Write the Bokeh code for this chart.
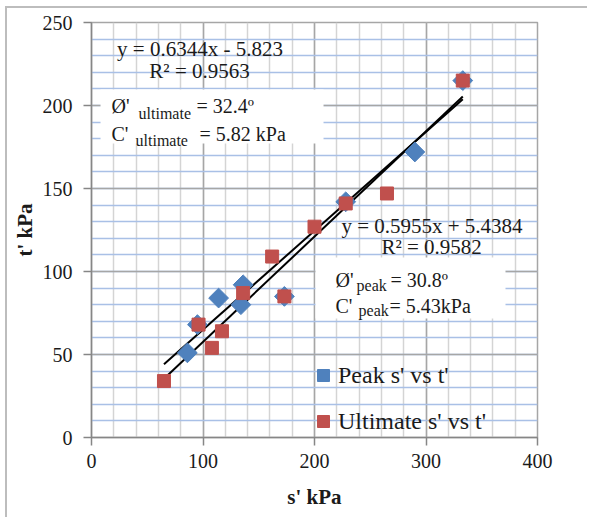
import math
from bokeh.plotting import figure
from bokeh.models import (Range1d, SingleIntervalTicker, Label, BoxAnnotation,
                          Legend, LegendItem)
from bokeh.embed import file_html
from bokeh.resources import INLINE

# ---- data ----
peak_s = [333, 290, 228, 173, 136, 134, 114, 95, 86]
peak_t = [215, 172, 142, 85, 92, 80, 84, 68, 51]
ult_s = [333, 265, 228, 200, 162, 173, 136, 117, 108, 96, 65]
ult_t = [215, 147, 141, 127, 109, 85, 87, 64, 54, 68, 34]

peak_slope, peak_icpt = 0.5955, 5.4384
ult_slope, ult_icpt = 0.6344, -5.823
trend_x = [65, 333]

FONT = "Liberation Serif"
BLUE = "#4F81BD"
RED = "#C0504D"

p = figure(width=582, height=511,
           min_border_left=84, min_border_right=52,
           min_border_top=14, min_border_bottom=82,
           x_range=Range1d(0, 400), y_range=Range1d(0, 250),
           output_backend="svg", toolbar_location=None,
           background_fill_color="white", border_fill_color="white")
p.styles = {"border-left": "2px solid #BDBDBD", "border-top": "2px solid #BDBDBD",
            "margin-left": "5px", "margin-top": "6px"}

xt = SingleIntervalTicker(interval=100, num_minor_ticks=5)
yt = SingleIntervalTicker(interval=50, num_minor_ticks=5)
p.xaxis.ticker = xt
p.yaxis.ticker = yt
p.xgrid.ticker = xt
p.ygrid.ticker = yt

p.xgrid.grid_line_color = "#A6A6A6"
p.xgrid.grid_line_width = 1.5
p.xgrid.minor_grid_line_color = "#D4D4D4"
p.xgrid.minor_grid_line_width = 1.5
p.ygrid.grid_line_color = "#A6A6A6"
p.ygrid.grid_line_width = 1.5
p.ygrid.minor_grid_line_color = "#A9C0E6"
p.ygrid.minor_grid_line_width = 1.5
p.outline_line_color = "#A6A6A6"
p.outline_line_width = 1.5

for ax in (p.xaxis[0], p.yaxis[0]):
    ax.axis_line_color = "#868686"
    ax.axis_line_width = 1.5
    ax.major_tick_line_color = "#868686"
    ax.major_tick_line_width = 1.5
    ax.major_tick_out = 8
    ax.major_tick_in = 0
    ax.minor_tick_out = 0
    ax.minor_tick_in = 0
    ax.major_label_text_font = FONT
    ax.major_label_text_font_size = "20px"
    ax.major_label_text_color = "#1A1A1A"
    ax.axis_label_text_font = FONT
    ax.axis_label_text_font_size = "21px"
    ax.axis_label_text_font_style = "bold"
    ax.axis_label_text_color = "#1A1A1A"

p.xaxis.axis_label = "s' kPa"
p.yaxis.axis_label = "t' kPa"
p.xaxis.major_label_standoff = 8
p.yaxis.major_label_standoff = 11
p.xaxis.axis_label_standoff = 14
p.yaxis.axis_label_standoff = 3

# white backgrounds behind the annotation text
p.add_layout(BoxAnnotation(left=8.1, right=208.1, bottom=177.1, top=209.6,
                           fill_color="white", fill_alpha=1, line_color=None,
                           level="underlay"))
p.add_layout(BoxAnnotation(left=200.9, right=371.3, bottom=71.7, top=108.4,
                           fill_color="white", fill_alpha=1, line_color=None,
                           level="underlay"))

# trendlines
p.line(trend_x, [peak_slope * x + peak_icpt for x in trend_x],
       line_color="black", line_width=2)
p.line(trend_x, [ult_slope * x + ult_icpt for x in trend_x],
       line_color="black", line_width=2)

r_peak = p.scatter(peak_s, peak_t, marker="square", angle=math.pi / 4, size=14,
                   fill_color=BLUE, line_color=BLUE)
r_ult = p.scatter(ult_s, ult_t, marker="square", size=13,
                  fill_color=RED, line_color=RED)

legend = Legend(items=[LegendItem(label="Peak s' vs t'", renderers=[r_peak]),
                       LegendItem(label="Ultimate s' vs t'", renderers=[r_ult])],
                location=(217, 1), margin=0, padding=0, spacing=16,
                glyph_width=30, glyph_height=30, label_standoff=0,
                label_text_font=FONT, label_text_font_size="24px",
                label_text_color="#1A1A1A",
                background_fill_alpha=0, border_line_color=None)
p.add_layout(legend)


def txt(x, y, s, size, align="left", baseline="alphabetic"):
    p.add_layout(Label(x=x, y=y, text=s, text_font=FONT, text_font_size=size,
                       text_align=align, text_baseline=baseline,
                       text_color="#1A1A1A"))


# ultimate fit annotation
txt(97.3, 234.3, "y = 0.6344x - 5.823", "21px", "center", "middle")
txt(96.9, 220.5, "R² = 0.9563", "21px", "center", "middle")
txt(17.9, 199.4, "Ø'", "20px")
txt(42.2, 195.2, "ultimate", "16px")
txt(94.2, 199.4, "= 32.4º", "20px")
txt(17.9, 182.7, "C'", "20px")
txt(39.5, 178.9, "ultimate", "16px")
txt(96.9, 182.7, "= 5.82 kPa", "20px")

# peak fit annotation
txt(305.4, 127.7, "y = 0.5955x + 5.4384", "21px", "center", "middle")
txt(305.0, 114.5, "R² = 0.9582", "21px", "center", "middle")
txt(218.8, 94.6, "Ø'", "20px")
txt(237.7, 91.6, "peak", "16px")
txt(268.2, 94.6, "= 30.8º", "20px")
txt(218.8, 79.5, "C'", "20px")
txt(239.5, 76.5, "peak", "16px")
txt(267.3, 79.5, "= 5.43kPa", "20px")

open("out.html", "w").write(file_html(p, INLINE))
